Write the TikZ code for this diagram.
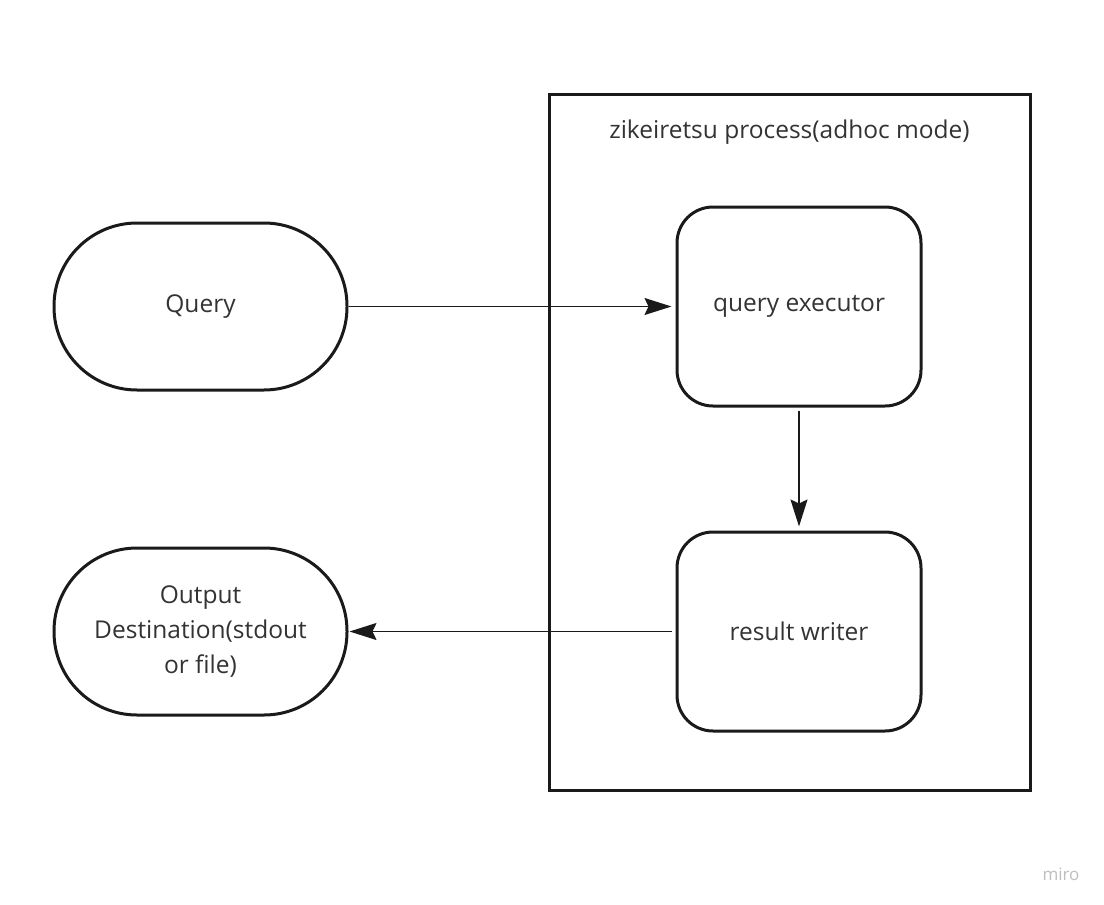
\documentclass[tikz,border=0pt]{standalone}
\usepackage{fontspec}
\setmainfont{Open Sans}
\usetikzlibrary{arrows.meta}
\definecolor{txt}{HTML}{333333}
\definecolor{edge}{HTML}{1A1A1A}
\begin{document}
\begin{tikzpicture}[x=1pt,y=-1pt,
  lbl/.style={text=txt,font=\fontsize{24.5}{35}\selectfont},
  pill/.style={lbl,draw=edge,line width=3pt,rounded corners=83pt,minimum width=293pt,minimum height=167pt,inner sep=0pt,align=center},
  procbox/.style={lbl,draw=edge,line width=3pt,rounded corners=36pt,minimum width=244pt,minimum height=199pt,inner sep=0pt,align=center},
  conn/.style={draw=edge,line width=1.5pt,-{Stealth[length=27pt,width=17pt,inset=4pt]},shorten >=4pt}
]
\useasboundingbox[fill=white] (0,0) rectangle (1104,905);
\node[draw=edge,line width=3pt,minimum width=481pt,minimum height=696pt,inner sep=0pt] (proc) at (789.5,442) {};
\node[lbl] (title) at (789.5,132) {zikeiretsu process(adhoc mode)};
\node[pill] (query) at (200.5,306.5) {Query};
\node[pill] (out) at (200.5,631.5) {Output\\Destination(stdout\\or file)};
\node[procbox] (exec) at (799,306.5) {query executor};
\node[procbox] (writer) at (799,631.5) {result writer};
\draw[conn] (query.east) -- (exec.west);
\draw[conn] ([yshift=-3pt]exec.south) -- (writer.north);
\draw[conn,shorten <=4pt,shorten >=1pt] (writer.west) -- (out.east);
\node[text=black!25,font=\fontsize{17}{20}\selectfont] (miro) at (1061,874) {miro};
\end{tikzpicture}
\end{document}
